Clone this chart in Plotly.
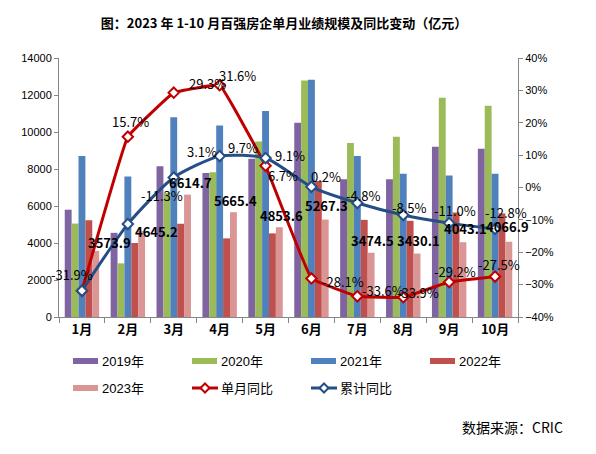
import plotly.graph_objects as go

months = ['1月', '2月', '3月', '4月', '5月', '6月', '7月', '8月', '9月', '10月']
v2019 = [5800, 4550, 8150, 7780, 8560, 10500, 7450, 7450, 9200, 9100]
v2020 = [5050, 2900, 6700, 7830, 9490, 12780, 9400, 9750, 11850, 11420]
v2021 = [8700, 7600, 10800, 10350, 11130, 12830, 8700, 7750, 7650, 7750]
v2022 = [5230, 4000, 5040, 4250, 4520, 7350, 5250, 5200, 5650, 5600]
v2023 = [3573.9, 4645.2, 6614.7, 5665.4, 4853.6, 5267.3, 3474.5, 3430.1, 4043.1, 4066.9]
yoy_month = [-31.9, 15.7, 29.3, 31.6, 6.7, -28.1, -33.6, -33.9, -29.2, -27.5]
yoy_cum = [-31.9, -11.3, 3.1, 9.7, 9.1, 0.2, -4.8, -8.5, -11.0, -12.8]

bar_names = ['2019年', '2020年', '2021年', '2022年', '2023年']
bar_colors = ['#8064A2', '#9BBB59', '#4F81BD', '#C0504D', '#D99694']
bar_series = [v2019, v2020, v2021, v2022, v2023]
red = '#C00000'
blue = '#254E87'

# layout geometry (pixels)
W, H = 596, 454
L, R, T, B = 51, 86, 50, 145
PW, PH = W - L - R, H - T - B


def px(x):
    return (x - L) / PW


def py(y):
    return (H - B - y) / PH


fig = go.Figure()
for name, col, vals in zip(bar_names, bar_colors, bar_series):
    fig.add_trace(go.Bar(x=months, y=vals, name=name, marker_color=col,
                         marker_line_width=0, yaxis='y'))

fig.add_trace(go.Scatter(x=months, y=yoy_month, name='单月同比', yaxis='y2',
                         mode='lines+markers',
                         line=dict(color=red, width=3, shape='spline', smoothing=0.2),
                         marker=dict(symbol='diamond', size=8, color='white',
                                     line=dict(color=red, width=2))))
fig.add_trace(go.Scatter(x=months, y=yoy_cum, name='累计同比', yaxis='y2',
                         mode='lines+markers',
                         line=dict(color=blue, width=3, shape='spline', smoothing=0.6),
                         marker=dict(symbol='diamond', size=8, color='white',
                                     line=dict(color=blue, width=2))))

ann = []
lab_font = dict(family='Noto Sans CJK SC', size=13, color='black')
bold_font = dict(family='Noto Sans CJK SC', size=13, color='black', weight='bold')

# 2023 value labels (offsets in px from category centre / bar top)
v_dx = [28, 29, 17, 16, 16, 15, 15, 15, 16, 12]
v_dy = [8, 0, 12, 12, 12, 14, 12, 13, 14, 15]
for m, v, dx, dy in zip(months, v2023, v_dx, v_dy):
    ann.append(dict(x=m, y=v, xref='x', yref='y', text=f'<b>{v:.1f}</b>',
                    showarrow=False, xshift=dx, yshift=dy, font=bold_font))

# single-month yoy labels
r_dx = [-10, 3, 34, 18, 17, 32, 26, 15, 6, 4]
r_dy = [16, 15, 9, 10, -10, -3, 6, 5, 11, 12]
for i, (m, v, dx, dy) in enumerate(zip(months, yoy_month, r_dx, r_dy)):
    ann.append(dict(x=m, y=v, xref='x', yref='y2', text=f'{v:.1f}%',
                    showarrow=False, xshift=dx, yshift=dy, font=lab_font))

# cumulative yoy labels (Jan coincides with single-month label)
b_dx = [0, 34, 28, 23, 24, 15, 6, 6, 6, 11]
b_dy = [0, 29, 26, 9, 3, 10, 8, 8, 13, 16]
for i, (m, v, dx, dy) in enumerate(zip(months, yoy_cum, b_dx, b_dy)):
    if i == 0:
        continue
    ann.append(dict(x=m, y=v, xref='x', yref='y2', text=f'{v:.1f}%',
                    showarrow=False, xshift=dx, yshift=dy, font=lab_font))

# manual legend
shapes = []
leg_font = dict(family='Liberation Sans, Noto Sans CJK SC', size=13, color='black')
leg_items = [
    ('bar', bar_names[0], bar_colors[0], 65, 353),
    ('bar', bar_names[1], bar_colors[1], 184, 353),
    ('bar', bar_names[2], bar_colors[2], 303, 353),
    ('bar', bar_names[3], bar_colors[3], 422, 353),
    ('bar', bar_names[4], bar_colors[4], 65, 380),
    ('line', '单月同比', red, 184, 380),
    ('line', '累计同比', blue, 303, 380),
]
for kind, name, col, x0, yc in leg_items:
    if kind == 'bar':
        shapes.append(dict(type='rect', xref='paper', yref='paper',
                           x0=px(x0), x1=px(x0 + 25), y0=py(yc + 3), y1=py(yc - 3),
                           fillcolor=col, line_width=0))
    else:
        shapes.append(dict(type='line', xref='paper', yref='paper',
                           x0=px(x0), x1=px(x0 + 26), y0=py(yc), y1=py(yc),
                           line=dict(color=col, width=3)))
        cx = x0 + 13
        d = 4.5
        path = (f'M {px(cx - d)} {py(yc)} L {px(cx)} {py(yc - d)} '
                f'L {px(cx + d)} {py(yc)} L {px(cx)} {py(yc + d)} Z')
        shapes.append(dict(type='path', xref='paper', yref='paper', path=path,
                           fillcolor='white', line=dict(color=col, width=2)))
    ann.append(dict(x=px(x0 + 27), y=py(yc), xref='paper', yref='paper', text=name,
                    showarrow=False, xanchor='left', yanchor='middle', font=leg_font))

ann.append(dict(x=px(452), y=py(419), xref='paper', yref='paper', text='数据来源：CRIC',
                showarrow=False, xanchor='left', yanchor='middle',
                font=dict(family='Noto Sans CJK SC', size=14, color='black')))

tick_font = dict(family='Liberation Sans, Arial', size=11, color='black')
fig.update_layout(
    width=W, height=H,
    margin=dict(l=L, r=R, t=T, b=B, pad=0),
    paper_bgcolor='white', plot_bgcolor='white',
    showlegend=False,
    barmode='group', bargap=0.25, bargroupgap=0,
    title=dict(text='<b>图：2023 年 1-10 月百强房企单月业绩规模及同比变动（亿元）</b>',
               x=276 / W, y=1 - 15 / H, xanchor='center', yanchor='middle',
               font=dict(family='Noto Sans CJK SC', size=13, color='black')),
    xaxis=dict(type='category', range=[-0.5, 9.5], showline=True, linecolor='#868686',
               linewidth=1, ticks='outside', ticklen=5, tickcolor='#868686',
               tickson='boundaries', showgrid=False, zeroline=False,
               tickfont=dict(family='Noto Sans CJK SC', size=13, color='black',
                             weight='bold')),
    yaxis=dict(range=[0, 14000], dtick=2000, tickformat='d', showline=True,
               linecolor='#868686', linewidth=1, ticks='outside', ticklen=4,
               tickcolor='#868686', showgrid=False, zeroline=False, tickfont=tick_font),
    yaxis2=dict(range=[-40, 40], dtick=10, overlaying='y', side='right',
                showline=True, linecolor='#868686', linewidth=1, ticks='outside',
                ticklen=4, tickcolor='#868686', showgrid=False, zeroline=False,
                ticksuffix='%', tickfont=tick_font),
    annotations=ann,
    shapes=shapes,
)

fig.write_html('out.html')
